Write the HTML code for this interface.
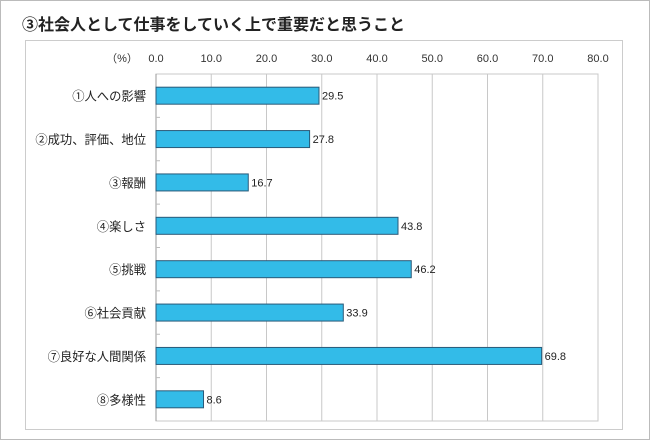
<!DOCTYPE html>
<html><head><meta charset="utf-8"><style>
body{margin:0;background:#fff;}
svg{display:block;font-family:"Liberation Sans","Noto Sans CJK JP",sans-serif;}
</style></head><body>
<svg width="650" height="440" viewBox="0 0 650 440">
<rect x="0.5" y="0.5" width="649" height="439" fill="#fff" stroke="#bbb"/>
<text x="22" y="30" font-size="16" font-weight="bold" fill="#222">③社会人として仕事をしていく上で重要だと思うこと</text>
<rect x="25.5" y="40.5" width="597" height="389" fill="#fff" stroke="#ccc"/>
<text x="122" y="62" font-size="11" fill="#333" text-anchor="middle">（%）</text>
<g id="grid"></g><g id="bars"></g>
</svg>
<script>
const categories=["①人への影響","②成功、評価、地位","③報酬","④楽しさ","⑤挑戦","⑥社会貢献","⑦良好な人間関係","⑧多様性"];
const values=[29.5,27.8,16.7,43.8,46.2,33.9,69.8,8.6];
const ticks=[0,10,20,30,40,50,60,70,80];
const tickLabels=["0.0","10.0","20.0","30.0","40.0","50.0","60.0","70.0","80.0"];
const NS="http://www.w3.org/2000/svg";
const X0=156,X1=598,Y0=74,Y1=421,MAX=80;
const xs=v=>X0+(v/MAX)*(X1-X0);
const band=(Y1-Y0)/categories.length;
function mk(t,a,p){const e=document.createElementNS(NS,t);for(const k in a)e.setAttribute(k,a[k]);p.appendChild(e);return e;}
const g=document.getElementById('grid'),b=document.getElementById('bars');
ticks.forEach((t,i)=>{
  const l=mk('line',{x1:xs(t),x2:xs(t),y1:Y0,y2:Y1,stroke:'#c8c8c8','stroke-width':1},g);
  
  
  const tx=mk('text',{x:xs(t),y:62,'font-size':11,fill:'#333','text-anchor':'middle'},g);
  tx.textContent=tickLabels[i];
  
  
});
const fr=mk('rect',{x:X0,y:Y0,width:X1-X0,height:Y1-Y0,fill:'none',stroke:'#c8c8c8'},g);


const ax=mk('line',{x1:X0,x2:X0,y1:Y0,y2:Y1,stroke:'#999'},g);


categories.forEach((c,i)=>{
  const cy=Y0+band*(i+0.5);
  if(i>0){const tk=mk('line',{x1:X0,x2:X0+4,y1:Y0+band*i,y2:Y0+band*i,stroke:'#bbb'},g);
    
    }
  const r=mk('rect',{x:X0,y:cy-8.5,width:xs(values[i])-X0,height:17,fill:'#33bbe8',stroke:'#2a5a78','stroke-width':1},b);
  
  
  const v=mk('text',{x:xs(values[i])+3,y:cy+4,'font-size':11,fill:'#222'},b);
  v.textContent=values[i].toFixed(1);
  
  
  const lb=mk('text',{x:146,y:cy+5,'font-size':12.3,fill:'#222','text-anchor':'end'},b);
  lb.textContent=c;
  
  
});
</script>
</body></html>
